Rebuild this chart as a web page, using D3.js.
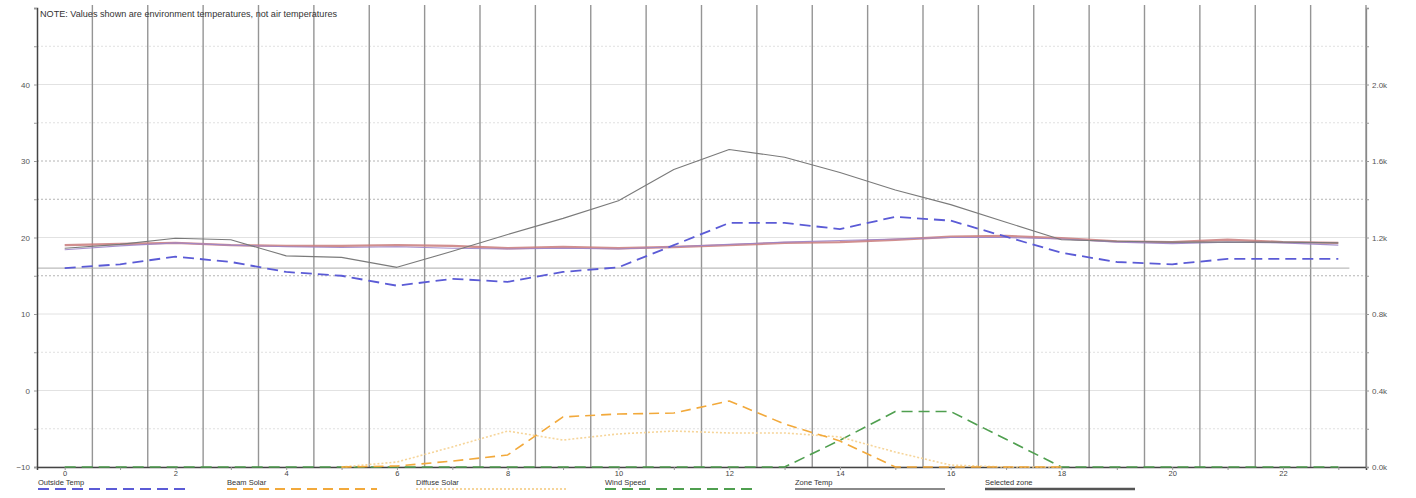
<!DOCTYPE html>
<html>
<head>
<meta charset="utf-8">
<script src="https://cdn.jsdelivr.net/npm/d3@7"></script>
<style>
  body { margin: 0; background: #fff; }
  text { font-family: Arial, "Liberation Sans", sans-serif; }
</style>
</head>
<body>
<svg id="chart" width="1416" height="498"></svg>
<script>
// Hour of day for each reading
const hours = [0,1,2,3,4,5,6,7,8,9,10,11,12,13,14,15,16,17,18,19,20,21,22,23];

// Temperatures (°C, left axis)
const outsideTemp = [16.0,16.5,17.5,16.8,15.5,15.0,13.7,14.6,14.2,15.5,16.1,19.0,21.9,21.9,21.1,22.7,22.2,20.1,18.0,16.8,16.5,17.2,17.2,17.2];
const zoneTemp    = [18.6,19.1,19.9,19.7,17.6,17.4,16.1,18.2,20.4,22.5,24.8,28.9,31.5,30.5,28.5,26.2,24.3,22.0,19.7,19.5,19.4,19.4,19.4,19.3];
const zoneA       = [19.0,19.15,19.3,19.0,18.9,18.9,19.0,18.9,18.6,18.75,18.6,18.75,19.0,19.3,19.4,19.7,20.1,20.2,19.9,19.5,19.4,19.7,19.4,19.3];
const zoneB       = [18.4,18.9,19.3,19.0,18.8,18.7,18.8,18.6,18.5,18.6,18.5,18.8,19.1,19.4,19.6,19.8,20.0,20.0,19.8,19.4,19.2,19.4,19.3,19.0];
const heatingSetpoint = 16.0;

// Solar (W/m²) and wind on the right axis
const beamSolar    = [null,null,null,null,null,0,5,31,63,262,277,282,345,225,136,0,0,0,0,null,null,null,null,null];
const diffuseSolar = [null,null,null,null,null,0,26,105,188,141,173,188,178,178,157,78,10,0,0,null,null,null,null,null];
const windSpeed    = [0,0,0,0,0,0,0,0,0,0,0,0,0,0,140,290,290,145,0,0,0,0,0,0];

// Axis ticks
const xTickLabels = [0,2,4,6,8,10,12,14,16,18,20,22];
const yTicks = [-10,0,10,20,30,40];
const yRightTicks = [0,400,800,1200,1600,2000];
const gridSolid = [-10,0,10,20,40];
const gridDotted = [-5,5,35,45];
const gridDark = [15,25,30];

const legendItems = ["Outside Temp", "Beam Solar", "Diffuse Solar", "Wind Speed", "Zone Temp", "Selected zone"];

const svg = d3.select("#chart");
const plotLeft = 37, plotRight = 1366, plotTop = 8, plotBottom = 467;

const x = d3.scaleLinear().domain([-0.5, 23.5]).range([plotLeft, plotRight]);
const y = d3.scaleLinear().domain([-10, 50]).range([plotBottom, plotTop]);
const yR = d3.scaleLinear().domain([0, 2400]).range([plotBottom, plotTop]);

// Horizontal grid
const g = svg.append("g");
g.selectAll(".hs").data(gridSolid).join("line")
  .attr("x1", plotLeft).attr("x2", plotRight)
  .attr("y1", d => y(d)).attr("y2", d => y(d))
  .attr("stroke", "#e2e2e2").attr("stroke-width", 1);
g.selectAll(".hd").data(gridDotted).join("line")
  .attr("x1", plotLeft).attr("x2", plotRight)
  .attr("y1", d => y(d)).attr("y2", d => y(d))
  .attr("stroke", "#e0e0e0").attr("stroke-width", 1).attr("stroke-dasharray", "2,2");
g.selectAll(".hk").data(gridDark).join("line")
  .attr("x1", plotLeft).attr("x2", plotRight)
  .attr("y1", d => y(d)).attr("y2", d => y(d))
  .attr("stroke", "#b4b4b4").attr("stroke-width", 1).attr("stroke-dasharray", "2,2");

// Vertical grid on the half hours
const halfHours = hours.map(h => h + 0.5);
g.selectAll(".v").data(halfHours).join("line")
  .attr("x1", d => x(d)).attr("x2", d => x(d))
  .attr("y1", plotTop - 3).attr("y2", plotBottom)
  .attr("stroke", "#959595").attr("stroke-width", 1.4);

// Heating setpoint reference
svg.append("line")
  .attr("x1", plotLeft).attr("x2", x(23.2))
  .attr("y1", y(heatingSetpoint)).attr("y2", y(heatingSetpoint))
  .attr("stroke", "#aaaaaa").attr("stroke-width", 1);

// Axes
const xAxis = d3.axisBottom(x).tickValues(hours).tickSize(3).tickPadding(1)
  .tickFormat(d => xTickLabels.includes(d) ? d : "");
const ax = svg.append("g").attr("transform", `translate(0,${plotBottom})`).call(xAxis);
ax.select(".domain").attr("stroke", "#444").attr("stroke-width", 1.5);
ax.selectAll(".tick line").attr("stroke", "#999");
ax.selectAll("text").attr("font-size", 7.5).attr("fill", "#444").attr("dy", "0.6em");

const ayMinor = d3.axisLeft(y).tickValues(d3.range(-10, 51, 5)).tickSize(3).tickFormat("");
const ay = svg.append("g").attr("transform", `translate(${plotLeft},0)`).call(ayMinor);
ay.select(".domain").attr("stroke", "#444").attr("stroke-width", 1.5);
ay.selectAll(".tick line").attr("stroke", "#999");
const ayLabels = svg.append("g").attr("transform", `translate(${plotLeft},0)`)
  .call(d3.axisLeft(y).tickValues(yTicks).tickSize(0).tickPadding(7));
ayLabels.select(".domain").remove();
ayLabels.selectAll("text").attr("font-size", 8).attr("fill", "#555");

const ayr = svg.append("g").attr("transform", `translate(${plotRight},0)`)
  .call(d3.axisRight(yR).tickValues(d3.range(0, 2401, 200)).tickSize(3).tickFormat(""));
ayr.select(".domain").attr("stroke", "#888").attr("stroke-width", 1.3);
ayr.selectAll(".tick line").attr("stroke", "#999");
const ayrLabels = svg.append("g").attr("transform", `translate(${plotRight},0)`)
  .call(d3.axisRight(yR).tickValues(yRightTicks).tickSize(0).tickPadding(6)
    .tickFormat(d => (d / 1000).toFixed(1) + "k"));
ayrLabels.select(".domain").remove();
ayrLabels.selectAll("text").attr("font-size", 8).attr("fill", "#555");

// Series drawing helper
function drawLine(values, scale, style) {
  const line = d3.line()
    .defined(d => d[1] !== null)
    .x(d => x(d[0])).y(d => scale(d[1]));
  const p = svg.append("path")
    .datum(hours.map((h, i) => [h, values[i]]))
    .attr("d", line)
    .attr("fill", "none")
    .attr("stroke", style.color)
    .attr("stroke-width", style.width)
    .attr("stroke-linejoin", "round");
  if (style.dash) p.attr("stroke-dasharray", style.dash);
  if (style.opacity) p.attr("stroke-opacity", style.opacity);
}

const styles = {
  outside: { color: "#5b5bd6", width: 1.8, dash: "11,6" },
  beam:    { color: "#f2a93b", width: 1.6, dash: "10,6" },
  diffuse: { color: "#f6d59a", width: 1.6, dash: "2,2" },
  wind:    { color: "#4f9f4f", width: 1.6, dash: "11,6" },
  zone:    { color: "#7a7a7a", width: 1.1 },
  zoneA:   { color: "#c97b7b", width: 2.4, opacity: 0.85 },
  zoneB:   { color: "#9c84c8", width: 1.1, opacity: 0.9 },
  selected:{ color: "#555555", width: 2.4 }
};

drawLine(windSpeed, yR, styles.wind);
drawLine(diffuseSolar, yR, styles.diffuse);
drawLine(beamSolar, yR, styles.beam);
drawLine(zoneA, y, styles.zoneA);
drawLine(zoneB, y, styles.zoneB);
drawLine(zoneTemp, y, styles.zone);
drawLine(outsideTemp, y, styles.outside);

// Note
svg.append("text").attr("x", 40).attr("y", 17)
  .attr("font-size", 9.1).attr("fill", "#333")
  .text("NOTE: Values shown are environment temperatures, not air temperatures");

// Legend
const legendStyles = [styles.outside, styles.beam, styles.diffuse, styles.wind,
  { color: "#8a8a8a", width: 2 }, styles.selected];
const legendX = [38, 227, 416, 605, 795, 985];
const lg = svg.append("g");
legendItems.forEach((name, i) => {
  const st = legendStyles[i];
  lg.append("text").attr("x", legendX[i]).attr("y", 485)
    .attr("font-size", 7.5).attr("fill", "#333").text(name);
  const l = lg.append("line")
    .attr("x1", legendX[i]).attr("x2", legendX[i] + 150)
    .attr("y1", 489).attr("y2", 489)
    .attr("stroke", st.color).attr("stroke-width", Math.max(st.width, 1.8));
  if (st.dash) l.attr("stroke-dasharray", st.dash);
});
</script>
</body>
</html>
